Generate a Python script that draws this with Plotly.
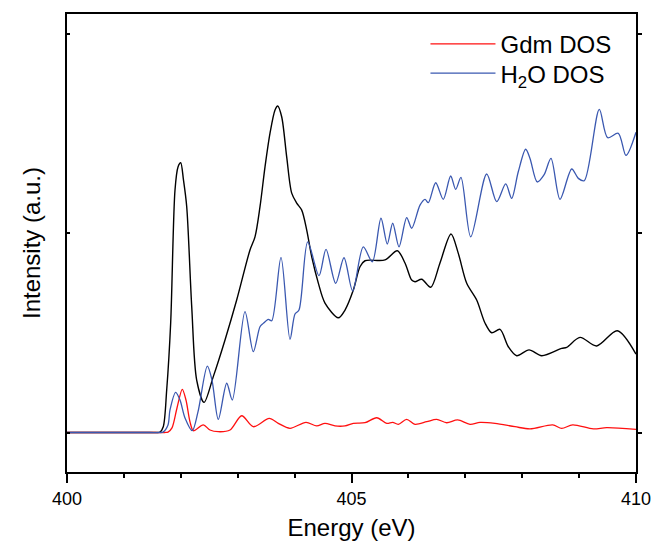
import plotly.graph_objects as go

# ---- data (energy in eV, intensity in arbitrary units) ----
total_e = [400.0, 401.40, 401.58, 401.634, 401.692, 401.752, 401.822, 401.898, 401.951, 401.998, 402.047,
           402.104, 402.192, 402.279, 402.408, 402.571, 402.777, 402.982, 403.216, 403.304,
           403.392, 403.480, 403.568, 403.656, 403.703, 403.773, 403.861, 403.949, 404.037,
           404.125, 404.213, 404.301, 404.417, 404.534, 404.768, 404.886, 405.032, 405.149,
           405.237, 405.589, 405.805, 405.940, 406.058, 406.116, 406.234, 406.392, 406.555,
           406.749, 406.877, 407.025, 407.200, 407.346, 407.464, 407.610, 407.756, 407.903,
           408.120, 408.343, 408.694, 408.782, 409.016, 409.309, 409.671, 410.0]
total_i = [0.0, 0.0, 0.0, 0.002, 0.029, 0.213, 0.549, 1.216, 1.331, 1.352, 1.266,
           1.132, 0.631, 0.263, 0.151, 0.280, 0.464, 0.664, 0.915, 0.981,
           1.132, 1.332, 1.501, 1.617, 1.637, 1.583, 1.382, 1.200, 1.150,
           1.115, 1.015, 0.881, 0.749, 0.649, 0.575, 0.614, 0.714, 0.831,
           0.861, 0.865, 0.911, 0.850, 0.764, 0.756, 0.768, 0.728, 0.850,
           0.995, 0.898, 0.748, 0.664, 0.549, 0.500, 0.517, 0.430, 0.385,
           0.414, 0.385, 0.422, 0.427, 0.477, 0.434, 0.510, 0.393]

gdm_e = [400.0, 401.55, 401.72, 401.775, 401.845, 401.933, 402.026, 402.091, 402.162, 402.220, 402.395,
         402.513, 402.659, 402.865, 403.070, 403.274, 403.555, 403.713, 403.919, 404.200,
         404.388, 404.534, 404.710, 404.886, 405.032, 405.237, 405.443, 405.619, 405.724,
         405.822, 405.970, 406.116, 406.322, 406.497, 406.673, 406.866, 407.083, 407.258,
         407.522, 407.873, 408.137, 408.536, 408.694, 408.887, 409.250, 409.485, 410.0]
gdm_i = [0.0, 0.0, 0.0, 0.002, 0.023, 0.123, 0.2165, 0.163, 0.053, 0.009, 0.038,
         0.0125, 0.004, 0.0125, 0.084, 0.029, 0.071, 0.046, 0.021, 0.051,
         0.033, 0.046, 0.033, 0.033, 0.046, 0.049, 0.074, 0.046, 0.051,
         0.041, 0.066, 0.041, 0.054, 0.066, 0.049, 0.063, 0.041, 0.051,
         0.046, 0.029, 0.018, 0.038, 0.021, 0.038, 0.018, 0.024, 0.016]

h2o_e = [400.0, 401.45, 401.63, 401.687, 401.775, 401.810, 401.910, 401.986, 402.074, 402.202, 402.302,
         402.466, 402.548, 402.659, 402.807, 402.905, 403.128, 403.274, 403.392, 403.450,
         403.538, 403.598, 403.761, 403.919, 404.007, 404.077, 404.230, 404.429, 404.552,
         404.722, 404.868, 405.021, 405.207, 405.366, 405.518, 405.629, 405.724, 405.835,
         405.970, 406.058, 406.204, 406.292, 406.350, 406.480, 406.613, 406.743, 406.831,
         406.924, 407.095, 407.376, 407.552, 407.710, 407.815, 407.931, 408.061, 408.137,
         408.265, 408.383, 408.506, 408.664, 408.870, 408.986, 409.091, 409.355, 409.502,
         409.689, 409.824, 410.0]
h2o_i = [0.0, 0.0, 0.0, 0.002, 0.038, 0.113, 0.2015, 0.163, 0.073, 0.009, 0.103,
         0.333, 0.263, 0.066, 0.247, 0.163, 0.606, 0.405, 0.530, 0.547,
         0.567, 0.560, 0.878, 0.467, 0.594, 0.614, 0.956, 0.786, 0.918,
         0.748, 0.876, 0.709, 0.931, 0.856, 1.074, 0.945, 1.049, 0.931,
         1.077, 1.024, 1.140, 1.169, 1.152, 1.252, 1.169, 1.286, 1.219,
         1.279, 0.981, 1.296, 1.157, 1.246, 1.174, 1.307, 1.420, 1.374,
         1.256, 1.291, 1.374, 1.169, 1.321, 1.274, 1.262, 1.620, 1.478,
         1.500, 1.389, 1.505]

x_range = [400, 410]
y_range = [-0.198, 2.098]
y_ticks = [0, 1, 2]
x_ticks = [400, 405, 410]
x_ticklabels = ["400", "405", "410"]

FONT = "Liberation Sans, Arial, sans-serif"
SPLINE = dict(shape="spline", smoothing=0.85)

fig = go.Figure()
fig.add_trace(go.Scatter(x=total_e, y=total_i, mode="lines", showlegend=False,
                         line=dict(color="#000000", width=1.4, **SPLINE)))
fig.add_trace(go.Scatter(x=gdm_e, y=gdm_i, mode="lines", name="Gdm DOS", legend="legend",
                         line=dict(color="#FF1010", width=1.3, **SPLINE)))
fig.add_trace(go.Scatter(x=h2o_e, y=h2o_i, mode="lines", name="H<sub>2</sub>O DOS", legend="legend2",
                         line=dict(color="#3A58B0", width=1.3, **SPLINE)))
fig.add_trace(go.Scatter(x=[], y=[], yaxis="y2", showlegend=False, hoverinfo="skip"))

legend_common = dict(xanchor="left", yanchor="top", bgcolor="rgba(0,0,0,0)",
                     font=dict(size=24, family=FONT), itemwidth=65)

fig.update_layout(
    width=654, height=544,
    margin=dict(l=67, r=18, t=14, b=72, autoexpand=False),
    paper_bgcolor="white", plot_bgcolor="white",
    font=dict(family=FONT, color="black"),
    xaxis=dict(range=x_range, tickvals=x_ticks, ticktext=x_ticklabels, automargin=False,
               ticks="outside", ticklen=9, tickwidth=1.5, tickcolor="black",
               showline=True, linewidth=1.8, linecolor="black", mirror=True,
               showgrid=False, zeroline=False,
               tickfont=dict(size=18, family=FONT),
               minor=dict(dtick=1, ticks="outside", ticklen=4, tickwidth=1.5, tickcolor="black", showgrid=False),
               title=dict(text="Energy (eV)", font=dict(size=24, family=FONT), standoff=12)),
    yaxis=dict(range=y_range, tickvals=y_ticks, showticklabels=False, automargin=False,
               ticks="inside", ticklen=3, tickwidth=1.5, tickcolor="black",
               showline=True, linewidth=1.8, linecolor="black",
               showgrid=False, zeroline=False,
               title=dict(text="Intensity (a.u.)", font=dict(size=24, family=FONT), standoff=18)),
    yaxis2=dict(range=y_range, tickvals=y_ticks, showticklabels=False, overlaying="y", side="right",
                anchor="x", automargin=False, ticks="outside", ticklen=4, tickwidth=1.5, tickcolor="black",
                showline=True, linewidth=1.8, linecolor="black", showgrid=False, zeroline=False),
    legend=dict(x=0.63, y=0.983, **legend_common),
    legend2=dict(x=0.63, y=0.919, **legend_common),
)

fig.write_html("out.html")
